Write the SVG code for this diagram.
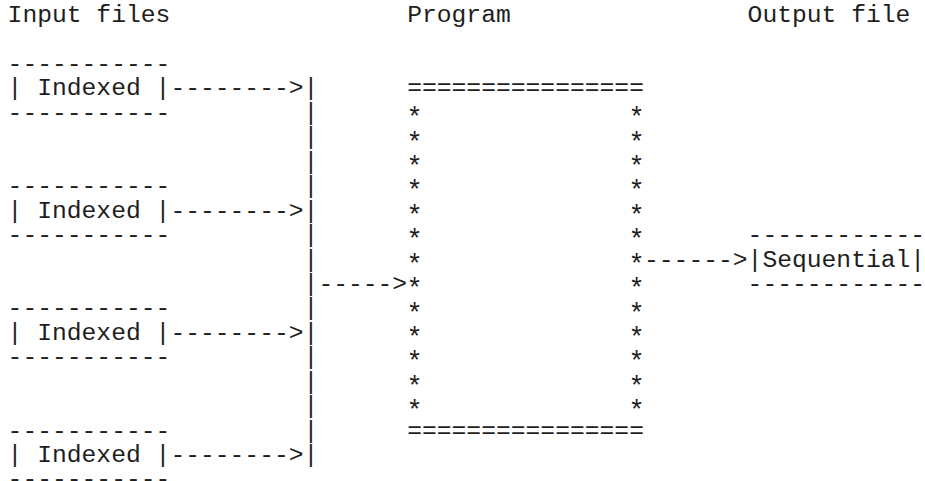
<svg xmlns="http://www.w3.org/2000/svg" width="925" height="481" viewBox="0 0 925 481" xml:space="preserve">
<style>
text { font-family: "Liberation Mono", "DejaVu Sans Mono", monospace; font-size: 24.66px; fill: #1e1e1e; white-space: pre; }
text.star { font-size: 27px; }
</style>
<rect width="925" height="481" fill="#ffffff"/>
<g id="headers">
  <text x="7.6" y="22.2">Input files</text>
  <text x="407.2" y="22.2">Program</text>
  <text x="747.6" y="22.2">Output file</text>
</g>
<g id="input1">
  <text x="7.6" y="71.06">-----------</text>
  <text x="7.6" y="95.49">| Indexed |</text>
  <text x="7.6" y="119.92">-----------</text>
</g>
<g id="input2">
  <text x="7.6" y="193.21">-----------</text>
  <text x="7.6" y="217.64">| Indexed |</text>
  <text x="7.6" y="242.07">-----------</text>
</g>
<g id="input3">
  <text x="7.6" y="315.36">-----------</text>
  <text x="7.6" y="339.79">| Indexed |</text>
  <text x="7.6" y="364.22">-----------</text>
</g>
<g id="input4">
  <text x="7.6" y="437.51">-----------</text>
  <text x="7.6" y="461.94">| Indexed |</text>
  <text x="7.6" y="485.6">-----------</text>
</g>
<g id="program">
  <text x="407.2" y="95.49">================</text>
  <text x="407.2" y="437.51">================</text>
  <text class="star">
    <tspan x="406.5" y="126.12">*</tspan><tspan x="628.5" y="126.12">*</tspan>
    <tspan x="406.5" y="150.55">*</tspan><tspan x="628.5" y="150.55">*</tspan>
    <tspan x="406.5" y="174.98">*</tspan><tspan x="628.5" y="174.98">*</tspan>
    <tspan x="406.5" y="199.41">*</tspan><tspan x="628.5" y="199.41">*</tspan>
    <tspan x="406.5" y="223.84">*</tspan><tspan x="628.5" y="223.84">*</tspan>
    <tspan x="406.5" y="248.27">*</tspan><tspan x="628.5" y="248.27">*</tspan>
    <tspan x="406.5" y="272.7">*</tspan><tspan x="628.5" y="272.7">*</tspan>
    <tspan x="406.5" y="297.13">*</tspan><tspan x="628.5" y="297.13">*</tspan>
    <tspan x="406.5" y="321.56">*</tspan><tspan x="628.5" y="321.56">*</tspan>
    <tspan x="406.5" y="345.99">*</tspan><tspan x="628.5" y="345.99">*</tspan>
    <tspan x="406.5" y="370.42">*</tspan><tspan x="628.5" y="370.42">*</tspan>
    <tspan x="406.5" y="394.85">*</tspan><tspan x="628.5" y="394.85">*</tspan>
    <tspan x="406.5" y="419.28">*</tspan><tspan x="628.5" y="419.28">*</tspan>
  </text>
</g>
<g id="output">
  <text x="747.6" y="242.07">------------</text>
  <text x="747.6" y="266.5">|Sequential|</text>
  <text x="747.6" y="290.93">------------</text>
</g>
<g id="connectors">
  <text x="170.4" y="95.49">--------&gt;|</text>
  <text x="170.4" y="217.64">--------&gt;|</text>
  <text x="170.4" y="339.79">--------&gt;|</text>
  <text x="170.4" y="461.94">--------&gt;|</text>
  <text>
    <tspan x="303.6" y="119.92">|</tspan>
    <tspan x="303.6" y="144.35">|</tspan>
    <tspan x="303.6" y="168.78">|</tspan>
    <tspan x="303.6" y="193.21">|</tspan>
    <tspan x="303.6" y="242.07">|</tspan>
    <tspan x="303.6" y="266.5">|</tspan>
    <tspan x="303.6" y="315.36">|</tspan>
    <tspan x="303.6" y="364.22">|</tspan>
    <tspan x="303.6" y="388.65">|</tspan>
    <tspan x="303.6" y="413.08">|</tspan>
    <tspan x="303.6" y="437.51">|</tspan>
  </text>
  <text x="303.6" y="290.93">|-----&gt;</text>
  <text x="644.0" y="266.5">------&gt;</text>
</g>
</svg>
